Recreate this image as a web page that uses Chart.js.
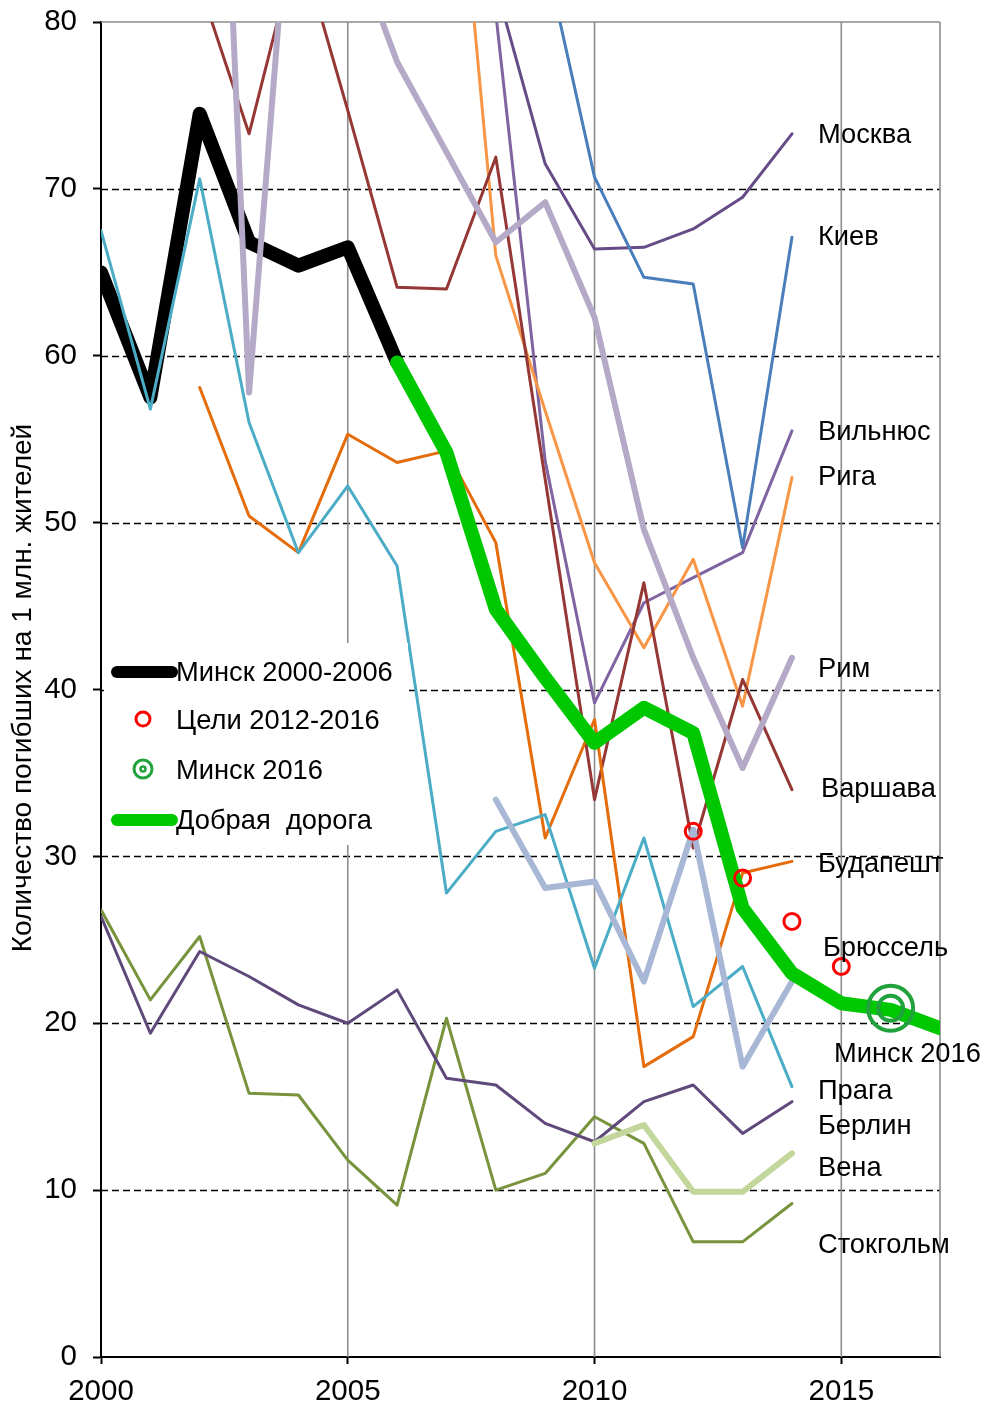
<!DOCTYPE html>
<html>
<head>
<meta charset="utf-8">
<script src="https://cdn.jsdelivr.net/npm/chart.js@4.4.1/dist/chart.umd.min.js"></script>
<style>
  html, body { margin: 0; padding: 0; background: #fff; }
</style>
</head>
<body>
<canvas id="chart" width="987" height="1407"></canvas>
<script>
const years = [2000, 2001, 2002, 2003, 2004, 2005, 2006, 2007, 2008, 2009, 2010, 2011, 2012, 2013, 2014, 2015, 2016, 2017]

// Минск и цели
const minskOld  = [65.0, 57.5, 74.5, 66.8, 65.4, 66.5, 59.6, null, null, null, null, null, null, null, null, null, null, null]
const goodRoad  = [null, null, null, null, null, null, 59.6, 54.2, 44.8, 40.7, 36.8, 38.9, 37.4, 26.9, 23.0, 21.2, 20.8, 19.7]
const targets   = [null, null, null, null, null, null, null, null, null, null, null, null, 31.5, 28.7, 26.1, 23.4, null, null]
const minsk2016 = [null, null, null, null, null, null, null, null, null, null, null, null, null, null, null, null, 20.9, null]

// города
const moscow    = [null, null, null, null, null, null, null, null, 82.2, 71.5, 66.4, 66.5, 67.6, 69.5, 73.3, null, null, null]
const kiev      = [null, null, null, null, null, null, null, null, null, 84.0, 70.7, 64.7, 64.3, 48.5, 67.1, null, null, null]
const vilnius   = [null, null, null, null, null, null, null, null, 80.5, 53.7, 39.2, 45.2, 46.7, 48.2, 55.5, null, null, null]
const riga      = [null, null, null, null, null, null, null, 98.0, 66.0, 56.7, 47.6, 42.5, 47.8, 39.0, 52.7, null, null, null]
const rome      = [null, null, 125.9, 57.8, 95.0, 85.6, 77.6, 72.2, 66.8, 69.2, 62.3, 49.6, 41.9, 35.3, 41.9, null, null, null]
const warsaw    = [null, null, 82.2, 73.3, 85.0, 74.7, 64.1, 64.0, 71.9, 52.6, 33.4, 46.4, 30.5, 40.6, 34.0, null, null, null]
const budapest  = [null, null, 58.1, 50.4, 48.2, 55.3, 53.6, 54.3, 48.8, 31.1, 38.2, 17.4, 19.2, 29.0, 29.7, null, null, null]
const brussels  = [null, null, null, null, null, null, null, null, 33.4, 28.1, 28.5, 22.5, 31.6, 17.4, 22.5, null, null, null]
const prague    = [67.5, 56.8, 70.6, 56.0, 48.2, 52.2, 47.4, 27.8, 31.5, 32.5, 23.3, 31.1, 21.0, 23.4, 16.2, null, null, null]
const berlin    = [26.4, 19.4, 24.3, 22.8, 21.1, 20.0, 22.0, 16.7, 16.3, 14.0, 12.9, 15.3, 16.3, 13.4, 15.3, null, null, null]
const vienna    = [null, null, null, null, null, null, null, null, null, null, 12.8, 13.9, 9.9, 9.9, 12.2, null, null, null]
const stockholm = [26.8, 21.4, 25.2, 15.8, 15.7, 11.8, 9.1, 20.3, 10.0, 11.0, 14.4, 12.8, 6.9, 6.9, 9.2, null, null, null]

const yTicks = [0, 10, 20, 30, 40, 50, 60, 70, 80]

const FONT = '"Liberation Sans", Arial, sans-serif'
const TEXT_SIZE = 27.3

const cityLine = (label, data, color, width, order) => ({
  label,
  data,
  borderColor: color,
  borderWidth: width,
  pointRadius: 0,
  fill: false,
  tension: 0,
  borderJoinStyle: "round",
  borderCapStyle: "round",
  clip: 0,
  order,
})

// подписи справа: [текст, уровень по оси Y, сдвиг от 2014 в px]
const sideLabels = [
  ["Москва", 73.2, 26],
  ["Киев", 67.1, 26],
  ["Вильнюс", 55.4, 26],
  ["Рига", 52.7, 26],
  ["Рим", 41.2, 26],
  ["Варшава", 34.0, 29],
  ["Будапешт", 29.5, 26],
  ["Брюссель", 24.5, 31],
  ["Минск 2016", 18.1, 42],
  ["Прага", 15.9, 26],
  ["Берлин", 13.8, 26],
  ["Вена", 11.3, 26],
  ["Стокгольм", 6.7, 26],
]

const text = (ctx, str, x, y, size) => {
  ctx.save()
  ctx.font = size + "px " + FONT
  ctx.fillStyle = "#000"
  ctx.textBaseline = "middle"
  ctx.textAlign = "left"
  ctx.fillText(str, x, y)
  ctx.restore()
}

const gridPlugin = {
  id: "grid",
  beforeDatasetsDraw(chart) {
    const { ctx, chartArea: a, scales: { x, y } } = chart
    ctx.save()
    ctx.lineWidth = 1.4
    ctx.strokeStyle = "#000"
    ctx.setLineDash([7, 4])
    yTicks.slice(1, -1).forEach(v => {
      const py = Math.round(y.getPixelForValue(v)) + 0.5
      ctx.beginPath()
      ctx.moveTo(a.left, py)
      ctx.lineTo(a.right, py)
      ctx.stroke()
    })
    ctx.setLineDash([])
    ctx.strokeStyle = "#8c8c8c"
    ctx.lineWidth = 1.6
    ;[5, 10, 15, 17].forEach(i => {
      const px = x.getPixelForValue(i)
      ctx.beginPath()
      ctx.moveTo(px, a.top)
      ctx.lineTo(px, a.bottom)
      ctx.stroke()
    })
    ctx.beginPath()
    ctx.moveTo(a.left, a.top)
    ctx.lineTo(a.right, a.top)
    ctx.stroke()
    ctx.restore()
  },
  afterDraw(chart) {
    const { ctx, scales: { x, y } } = chart

    // легенда на белом фоне
    ctx.save()
    ctx.fillStyle = "#fff"
    ctx.fillRect(104, 643, 304, 202)
    ctx.lineCap = "round"
    ctx.lineWidth = 12
    ctx.strokeStyle = "#000"
    ctx.beginPath(); ctx.moveTo(117, 672); ctx.lineTo(172, 672); ctx.stroke()
    ctx.strokeStyle = "#00c800"
    ctx.beginPath(); ctx.moveTo(117, 820); ctx.lineTo(172, 820); ctx.stroke()
    ctx.lineWidth = 3
    ctx.strokeStyle = "#ff0000"
    ctx.beginPath(); ctx.arc(143, 719, 7, 0, Math.PI * 2); ctx.stroke()
    ctx.strokeStyle = "#22a23c"
    ctx.beginPath(); ctx.arc(143, 769, 9, 0, Math.PI * 2); ctx.stroke()
    ctx.lineWidth = 2.5
    ctx.beginPath(); ctx.arc(143, 769, 2.5, 0, Math.PI * 2); ctx.stroke()
    ctx.restore()
    text(ctx, "Минск 2000-2006", 176, 673, TEXT_SIZE)
    text(ctx, "Цели 2012-2016", 176, 721, TEXT_SIZE)
    text(ctx, "Минск 2016", 176, 771, TEXT_SIZE)
    text(ctx, "Добрая  дорога", 176, 821, TEXT_SIZE)

    // подписи городов
    const x0 = x.getPixelForValue(14)
    sideLabels.forEach(([name, v, dx]) => text(ctx, name, x0 + dx, y.getPixelForValue(v), TEXT_SIZE))

    // подпись оси Y
    ctx.save()
    ctx.translate(23, 688)
    ctx.rotate(-Math.PI / 2)
    ctx.font = "28px " + FONT
    ctx.fillStyle = "#000"
    ctx.textAlign = "center"
    ctx.textBaseline = "middle"
    ctx.fillText("Количество погибших на 1 млн. жителей", 0, 0)
    ctx.restore()
  },
}

const config = {
  type: "line",
  data: {
    labels: years,
    datasets: [
      {
        label: "Минск 2016",
        data: minsk2016,
        showLine: false,
        pointRadius: 22.5,
        pointBorderWidth: 4,
        pointBorderColor: "#22a23c",
        pointBackgroundColor: "rgba(0,0,0,0)",
        order: 0,
      },
      {
        label: "Минск 2016 (внутр.)",
        data: minsk2016,
        showLine: false,
        pointRadius: 12.5,
        pointBorderWidth: 4,
        pointBorderColor: "#22a23c",
        pointBackgroundColor: "rgba(0,0,0,0)",
        order: 0,
      },
      {
        label: "Цели 2012-2016",
        data: targets,
        showLine: false,
        pointRadius: 8,
        pointBorderWidth: 3,
        pointBorderColor: "#ff0000",
        pointBackgroundColor: "rgba(0,0,0,0)",
        order: 1,
      },
      cityLine("Добрая дорога", goodRoad, "#00c800", 14, 2),
      cityLine("Брюссель", brussels, "#a7b7d5", 6, 3),
      cityLine("Вена", vienna, "#c3d69b", 6, 3),
      cityLine("Рим", rome, "#b4aac8", 6, 4),
      cityLine("Прага", prague, "#4bacc6", 3, 4),
      cityLine("Будапешт", budapest, "#e46c0a", 3, 4),
      cityLine("Варшава", warsaw, "#953735", 3, 4),
      cityLine("Рига", riga, "#f79646", 3, 4),
      cityLine("Вильнюс", vilnius, "#8064a2", 3, 4),
      cityLine("Киев", kiev, "#4a7ebb", 3, 4),
      cityLine("Москва", moscow, "#654c86", 3, 4),
      cityLine("Берлин", berlin, "#5f497a", 3, 4),
      cityLine("Стокгольм", stockholm, "#77933c", 3, 4),
      cityLine("Минск 2000-2006", minskOld, "#000000", 14, 20),
    ],
  },
  options: {
    responsive: false,
    animation: false,
    layout: { autoPadding: false, padding: { left: 0, right: 47, top: 22, bottom: 0 } },
    plugins: {
      legend: { display: false },
      tooltip: { enabled: false },
    },
    scales: {
      x: {
        type: "category",
        offset: false,
        afterFit: s => { s.height = 50 },
        grid: {
          drawOnChartArea: false,
          drawTicks: true,
          tickLength: 7,
          tickWidth: 2,
          tickColor: c => (years[c.index] % 5 === 0 ? "#000" : "rgba(0,0,0,0)"),
        },
        border: { display: true, color: "#000", width: 2 },
        ticks: {
          autoSkip: false,
          maxRotation: 0,
          padding: 10,
          color: "#000",
          font: { family: FONT, size: 29.5 },
          callback: (v, i) => (years[i] % 5 === 0 ? String(years[i]) : ""),
        },
      },
      y: {
        min: 0,
        max: 80,
        afterFit: s => {
          s.width = 101
          s.paddingTop = 0
          s.paddingBottom = 0
        },
        grid: {
          drawOnChartArea: false,
          drawTicks: true,
          tickLength: 8,
          tickWidth: 2,
          tickColor: "#000",
        },
        border: { display: true, color: "#000", width: 2 },
        ticks: {
          stepSize: 10,
          padding: 16,
          color: "#000",
          font: { family: FONT, size: 29.5 },
        },
      },
    },
  },
  plugins: [gridPlugin],
}

new Chart(document.getElementById("chart"), config)
</script>
</body>
</html>
